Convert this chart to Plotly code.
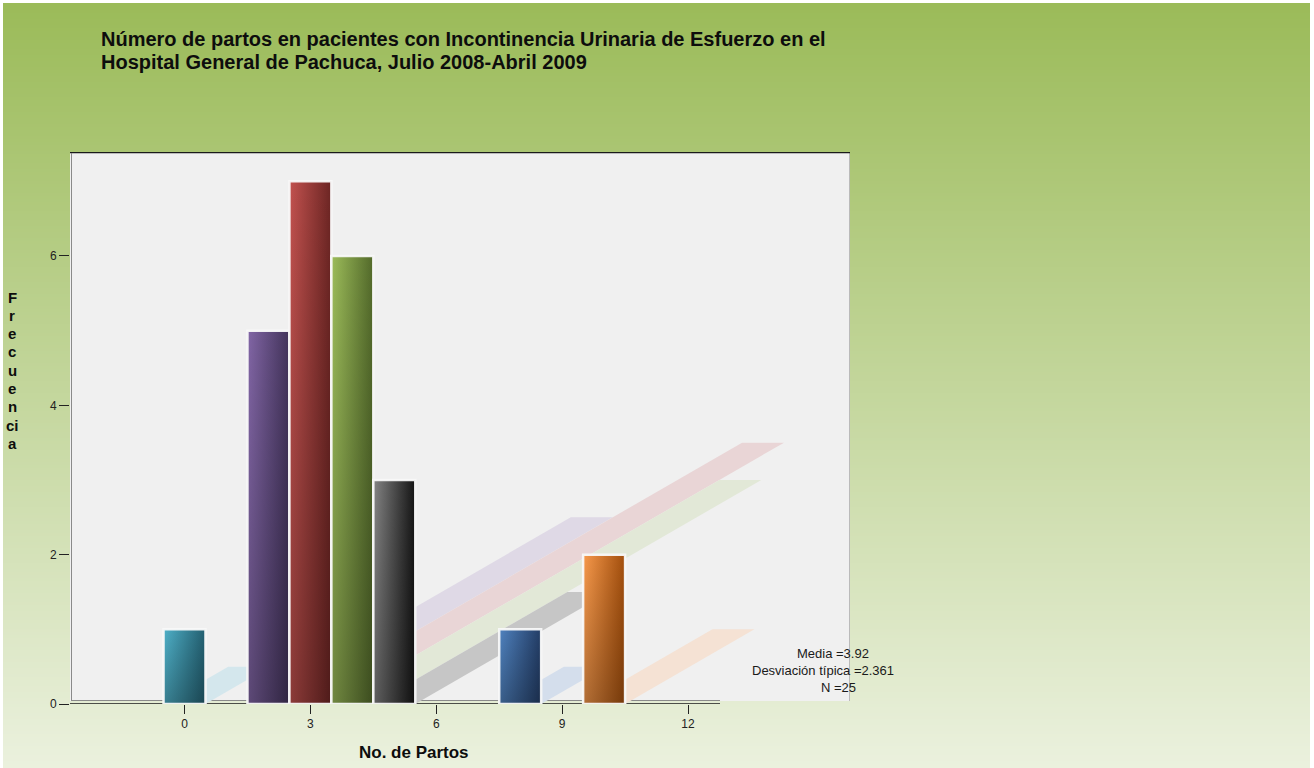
import base64
import math
import struct
import zlib

import plotly.graph_objects as go

# ---- data -------------------------------------------------------------
partos = [0, 2, 3, 4, 5, 8, 10]          # number of deliveries
frecuencia = [1, 5, 7, 6, 3, 1, 2]       # patients per value
x_ticks = [0, 3, 6, 9, 12]
y_ticks = [0, 2, 4, 6]

titulo = ["Número de partos en pacientes con Incontinencia Urinaria de Esfuerzo en el",
          "Hospital General de Pachuca, Julio 2008-Abril 2009"]
eje_x = "No. de Partos"
eje_y_letras = ["F", "r", "e", "c", "u", "e", "n", "ci", "a"]

# ---- styling ------------------------------------------------------------
# (light, dark) gradient ends for each bar, and the flat tint of its shadow
bar_light = ["#4fb1c9", "#8266a6", "#c3524f", "#9dbd5a", "#858585", "#5083c0", "#f89a4c"]
bar_dark = ["#235f70", "#42335a", "#6c2523", "#52692a", "#141414", "#233d66", "#a24e0c"]
shadow_col = ["#d4e7ed", "#dfd9e6", "#e9d5d6", "#e2e8d7", "#c6c6c6", "#d4deec", "#f5e2d4"]

W, H = 1314, 768
L, R, T, B = 70, 850, 152, 704           # plot area in pixels
PX_X = 41.96                              # pixels per x unit
PX_Y = 74.67                              # pixels per y unit
X0 = -(184.5 - L) / PX_X
X1 = X0 + (R - L) / PX_X
Y1 = (B - T) / PX_Y
FONT = "Liberation Sans, Arial, sans-serif"


def xd(px):
    return X0 + (px - L) / PX_X


def yd(py):
    return (B - py) / PX_Y


def xp(px):
    return (px - L) / (R - L)


def yp(py):
    return (B - py) / (B - T)


def gradient_png(top, bottom, n=256, w=4):
    """Vertical gradient as a PNG data URI."""
    def hx(c):
        return [int(c[i:i + 2], 16) for i in (1, 3, 5)]
    a, b = hx(top), hx(bottom)
    raw = b""
    for i in range(n):
        t = i / (n - 1)
        px = bytes(round(a[k] + (b[k] - a[k]) * t) for k in range(3))
        raw += b"\x00" + px * w

    def chunk(tag, data):
        return (struct.pack(">I", len(data)) + tag + data
                + struct.pack(">I", zlib.crc32(tag + data) & 0xFFFFFFFF))
    png = (b"\x89PNG\r\n\x1a\n"
           + chunk(b"IHDR", struct.pack(">IIBBBBB", w, n, 8, 2, 0, 0, 0))
           + chunk(b"IDAT", zlib.compress(raw))
           + chunk(b"IEND", b""))
    return "data:image/png;base64," + base64.b64encode(png).decode()


fig = go.Figure()

# ---- diagonal floor shadows (rising at 30 degrees on screen) ----------------
tan30 = math.tan(math.radians(30))
for c, h, col in zip(partos, frecuencia, shadow_col):
    top = h / 2
    d = top * PX_Y / tan30 / PX_X
    fig.add_trace(go.Scatter(
        x=[c - 0.5, c + 0.5, c + 0.5 + d, c - 0.5 + d, c - 0.5],
        y=[0, 0, top, top, 0],
        mode="lines", fill="toself", fillcolor=col,
        line=dict(width=0), hoverinfo="skip", showlegend=False))

# ---- bars with gradient fills -------------------------------------------
for c, h, lo, hi in zip(partos, frecuencia, bar_light, bar_dark):
    xs = [c - 0.5, c + 0.5, c + 0.5, c - 0.5, c - 0.5]
    ys = [0, 0, h, h, 0]
    fig.add_trace(go.Scatter(
        x=xs, y=ys, mode="lines", fill="toself",
        fillgradient=dict(type="horizontal", colorscale=[[0, lo], [1, hi]]),
        line=dict(width=0), hoverinfo="skip", showlegend=False))
    fig.add_trace(go.Scatter(
        x=xs, y=ys, mode="lines", fill="toself",
        fillgradient=dict(type="vertical",
                          colorscale=[[0, "rgba(0,0,0,0.28)"], [1, "rgba(0,0,0,0)"]]),
        line=dict(width=2.5, color="rgba(248,248,248,0.95)"),
        hovertemplate="%{x}<extra></extra>", showlegend=False))

# ---- frame -------------------------------------------------------------
shapes = [
    dict(type="rect", xref="x", yref="y", x0=X0, x1=X1, y0=yd(701), y1=Y1,
         fillcolor="#f0f0f0", line=dict(width=0), layer="below"),
    dict(type="line", xref="x", yref="y", x0=xd(70), x1=xd(851), y0=yd(152.5), y1=yd(152.5),
         line=dict(color="#1a1a1a", width=1.5), layer="below"),
    dict(type="line", xref="x", yref="y", x0=xd(850.5), x1=xd(850.5), y0=yd(152), y1=yd(701),
         line=dict(color="#1a1a1a", width=1.5), layer="below"),
    dict(type="line", xref="x", yref="y", x0=xd(69), x1=xd(69), y0=yd(155), y1=yd(704.5),
         line=dict(color="#2a2a2a", width=2), layer="below"),
    dict(type="line", xref="x", yref="y", x0=xd(71.5), x1=xd(71.5), y0=yd(153), y1=yd(701),
         line=dict(color="#8a8a8a", width=1), layer="below"),
    dict(type="line", xref="x", yref="y", x0=xd(68), x1=xd(720), y0=yd(704), y1=yd(704),
         line=dict(color="#1a1a1a", width=1.5), layer="below"),
    dict(type="line", xref="x", yref="y", x0=xd(71), x1=xd(720), y0=yd(700.5), y1=yd(700.5),
         line=dict(color="#8a8a8a", width=1), layer="below"),
]

# ---- text ------------------------------------------------------------------
n = sum(frecuencia)
media = sum(p * f for p, f in zip(partos, frecuencia)) / n
desv = math.sqrt(sum(f * (p - media) ** 2 for p, f in zip(partos, frecuencia)) / (n - 1))
stats = [f"Media ={media:.2f}", f"Desviación típica ={desv:.3f}", f"N ={n}"]
stats_cx = [833, 823, 838]

annotations = [
    dict(text=eje_x, xref="paper", yref="paper", x=xp(414), y=yp(752),
         xanchor="center", yanchor="middle", showarrow=False,
         font=dict(family=FONT, size=17, color="#0d0d0d", weight="bold")),
]
for i, s in enumerate(titulo):
    annotations.append(dict(
        text=s, xref="paper", yref="paper", x=xp(99), y=yp(39 + i * 23),
        xanchor="left", yanchor="middle", align="left", showarrow=False,
        font=dict(family=FONT, size=20, color="#0d0d0d", weight="bold")))
for i, s in enumerate(eje_y_letras):
    annotations.append(dict(
        text=s, xref="paper", yref="paper", x=xp(12), y=yp(297 + i * 18.3),
        xanchor="center", yanchor="middle", showarrow=False,
        font=dict(family=FONT, size=15, color="#0d0d0d", weight="bold")))
for i, (s, cx) in enumerate(zip(stats, stats_cx)):
    annotations.append(dict(
        text=s, xref="paper", yref="paper", x=xp(cx), y=yp(653 + i * 17),
        xanchor="center", yanchor="middle", showarrow=False,
        font=dict(family=FONT, size=13, color="#1a1a1a")))

fig.update_layout(
    width=W, height=H,
    margin=dict(l=L, r=W - R, t=T, b=H - B, pad=0),
    paper_bgcolor="#ffffff",
    plot_bgcolor="rgba(0,0,0,0)",
    showlegend=False,
    shapes=shapes,
    annotations=annotations,
    images=[dict(source=gradient_png("#9bbb59", "#ebf1de"),
                 xref="paper", yref="paper", x=xp(3), y=yp(3),
                 sizex=(1310 - 3) / (R - L), sizey=(H - 3) / (B - T),
                 xanchor="left", yanchor="top", sizing="stretch", layer="below")],
    xaxis=dict(range=[X0, X1], tickvals=x_ticks, ticks="outside", ticklen=9,
               tickwidth=1, tickcolor="#222222", showline=False, showgrid=False,
               zeroline=False, tickfont=dict(family=FONT, size=12, color="#222222"),
               fixedrange=True),
    yaxis=dict(range=[0, Y1], tickvals=y_ticks, ticks="outside", ticklen=10,
               tickwidth=1, tickcolor="#222222", showline=False, showgrid=False,
               zeroline=False, tickfont=dict(family=FONT, size=12, color="#222222"),
               fixedrange=True),
)

fig.write_html("out.html")
